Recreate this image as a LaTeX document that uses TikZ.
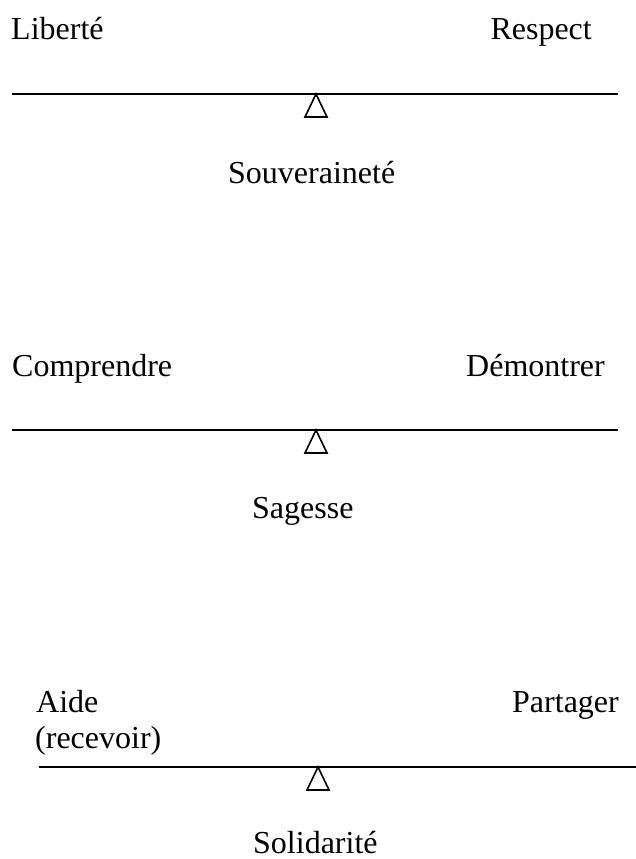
\documentclass[tikz,border=0pt]{standalone}
\usepackage{fontspec}
\setmainfont{Liberation Serif}
\begin{document}
\begin{tikzpicture}[x=1pt,y=-1pt,
  lbl/.style={inner sep=0pt,font=\fontsize{32}{36}\selectfont},
  beam/.style={line width=1.8pt},
  pivot/.style={line width=1.6pt,line join=miter}]
\useasboundingbox (0,0) rectangle (636,859);
% Balance 1
\node[lbl,anchor=base west] (lib) at (11,40) {Liberté};
\node[lbl,anchor=base east] (res) at (592,40) {Respect};
\coordinate (b1l) at (12,94); \coordinate (b1r) at (618,94);
\draw[beam] (b1l) -- (b1r);
\coordinate (p1) at (316,94);
\draw[pivot] (p1) -- ++(-11,23) -- ++(22,0) -- cycle;
\node[lbl,anchor=base west] (sou) at (228,183) {Souveraineté};
% Balance 2
\node[lbl,anchor=base west] (com) at (12,376) {Comprendre};
\node[lbl,anchor=base east] (dem) at (605,376) {Démontrer};
\coordinate (b2l) at (12,430); \coordinate (b2r) at (618,430);
\draw[beam] (b2l) -- (b2r);
\coordinate (p2) at (316,430);
\draw[pivot] (p2) -- ++(-11,23) -- ++(22,0) -- cycle;
\node[lbl,anchor=base west] (sag) at (252,518) {Sagesse};
% Balance 3
\node[lbl,anchor=base west] (aid) at (36,712) {Aide};
\node[lbl,anchor=base west] (rec) at (35,748) {(recevoir)};
\node[lbl,anchor=base east] (par) at (619,712) {Partager};
\coordinate (b3l) at (39,767); \coordinate (b3r) at (636,767);
\draw[beam] (b3l) -- (b3r);
\coordinate (p3) at (318,767);
\draw[pivot] (p3) -- ++(-11,23) -- ++(22,0) -- cycle;
\node[lbl,anchor=base west] (sol) at (253,853) {Solidarité};
\end{tikzpicture}
\end{document}
